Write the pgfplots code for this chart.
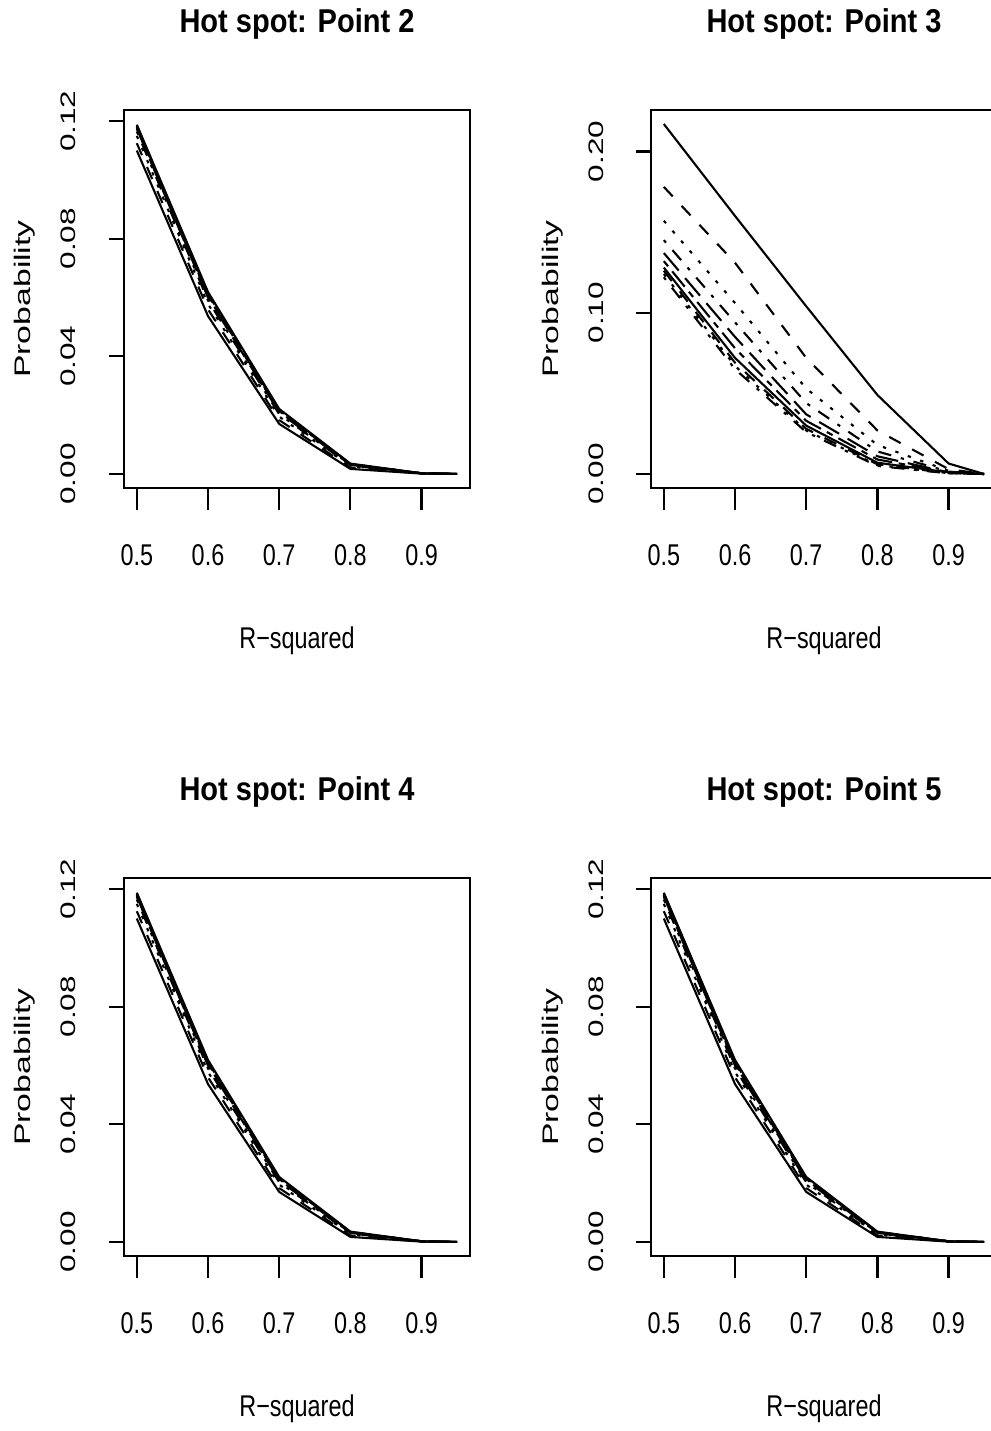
\documentclass[border=0pt]{standalone}
\usepackage{fontspec}
\usepackage{pgfplots}
\usepackage{pgfplotstable}
\pgfplotsset{compat=1.18}

\setmainfont{Liberation Sans}
% horizontal text is set narrow, rotated text is set squat
\newfontfamily\hfont{Liberation Sans}[FakeStretch=0.78]
\newfontfamily\tfont{Liberation Sans}[FakeStretch=0.88]
\newfontfamily\vfont{Liberation Sans}[FakeStretch=1.5]
\newcommand\ticksH{\hfont\fontsize{30bp}{36bp}\selectfont}
\newcommand\ticksV{\vfont\fontsize{21bp}{25bp}\selectfont}
\newcommand\labelV{\vfont\fontsize{22.5bp}{27bp}\selectfont}
\newcommand\titleF{\tfont\bfseries\fontsize{33bp}{40bp}\selectfont}

% probability against R-squared, ten curves per hot spot
\pgfplotstableread{
x     a      b      c      d      e      f      g      h      i      j
0.50  0.1100 0.1125 0.1150 0.1165 0.1175 0.1182 0.1188 0.1185 0.1180 0.1176
0.60  0.0537 0.0560 0.0578 0.0590 0.0600 0.0607 0.0619 0.0612 0.0608 0.0604
0.70  0.0170 0.0183 0.0195 0.0203 0.0209 0.0214 0.0221 0.0217 0.0215 0.0212
0.80  0.0017 0.0022 0.0026 0.0029 0.0031 0.0033 0.0035 0.0034 0.0033 0.0032
0.90  0.0001 0.0001 0.0001 0.0002 0.0002 0.0002 0.0002 0.0002 0.0002 0.0002
0.95  0.0000 0.0000 0.0000 0.0000 0.0000 0.0000 0.0000 0.0000 0.0000 0.0000
}\hsTwo
\pgfplotstableread{
x     a      b      c      d      e      f      g      h      i      j
0.50  0.2170 0.1780 0.1570 0.1450 0.1370 0.1320 0.1280 0.1260 0.1240 0.1220
0.60  0.1600 0.1310 0.1060 0.0940 0.0850 0.0780 0.0720 0.0690 0.0670 0.0650
0.70  0.1040 0.0720 0.0530 0.0440 0.0370 0.0330 0.0300 0.0280 0.0270 0.0260
0.80  0.0490 0.0270 0.0180 0.0140 0.0110 0.0090 0.0070 0.0060 0.0055 0.0050
0.90  0.0065 0.0030 0.0020 0.0015 0.0010 0.0010 0.0010 0.0005 0.0005 0.0004
0.95  0.0000 0.0000 0.0000 0.0000 0.0000 0.0000 0.0000 0.0000 0.0000 0.0000
}\hsThree

% R line types 1..6
\tikzset{
  lty1/.style={solid},
  lty2/.style={dash pattern=on 13bp off 13bp},
  lty3/.style={dash pattern=on 3.3bp off 9.9bp},
  lty4/.style={dash pattern=on 3.3bp off 9.9bp on 13.2bp off 9.9bp},
  lty5/.style={dash pattern=on 23bp off 9.9bp},
  lty6/.style={dash pattern=on 6.6bp off 6.6bp on 19.8bp off 6.6bp},
}

\pgfplotsset{
  rpanel/.style={
    scale only axis, width=346bp, height=378bp,
    anchor=south west,
    xmin=0.482, xmax=0.968,
    xtick={0.5,0.6,0.7,0.8,0.9},
    tick align=outside, xtick pos=left, ytick pos=left,
    major tick length=22bp,
    ytick style={/pgfplots/major tick length=15bp},
    axis line style={line width=2.6bp},
    every tick/.style={line width=2.2bp, black},
    scaled y ticks=false,
    /pgf/number format/assume math mode=true,
    xticklabel style={font=\ticksH, anchor=base, yshift=-55bp,
      /pgf/number format/fixed, /pgf/number format/precision=1},
    yticklabel style={font=\ticksV, xshift=-26bp, rotate=90, anchor=base,
      /pgf/number format/fixed, /pgf/number format/fixed zerofill,
      /pgf/number format/precision=2},
    xlabel={R−squared},
    xlabel style={font=\ticksH, at={(axis description cs:0.5,-0.4233)}, anchor=base},
    ylabel={Probability},
    ylabel style={font=\labelV, at={(axis description cs:-0.2688,0.5)}, anchor=base},
    title style={font=\titleF, at={(axis description cs:0.5,1.1905)}, anchor=base},
    every axis plot/.append style={line width=2.1bp, black},
  },
  lowrange/.style={ymin=-0.0048, ymax=0.1238, ytick={0,0.04,0.08,0.12}},
  highrange/.style={ymin=-0.00868, ymax=0.22568, ytick={0,0.1,0.2}},
}

\newcommand\curves[1]{%
  \addplot[lty1] table[x=x,y=a] {#1};
  \addplot[lty2] table[x=x,y=b] {#1};
  \addplot[lty3] table[x=x,y=c] {#1};
  \addplot[lty4] table[x=x,y=d] {#1};
  \addplot[lty5] table[x=x,y=e] {#1};
  \addplot[lty6] table[x=x,y=f] {#1};
  \addplot[lty1] table[x=x,y=g] {#1};
  \addplot[lty2] table[x=x,y=h] {#1};
  \addplot[lty3] table[x=x,y=i] {#1};
  \addplot[lty4] table[x=x,y=j] {#1};
}

\begin{document}
\begin{tikzpicture}
\path[use as bounding box] (0bp,0bp) rectangle (991bp,-1431bp);
\clip (0bp,0bp) rectangle (991bp,-1431bp);

\begin{axis}[rpanel, lowrange, at={(124bp,-488bp)}, title={Hot spot: Point 2}]
  \curves{\hsTwo}
\end{axis}

\begin{axis}[rpanel, highrange, at={(651bp,-488bp)}, title={Hot spot: Point 3}]
  \curves{\hsThree}
\end{axis}

\begin{axis}[rpanel, lowrange, at={(124bp,-1256bp)}, title={Hot spot: Point 4}]
  \curves{\hsTwo}
\end{axis}

\begin{axis}[rpanel, lowrange, at={(651bp,-1256bp)}, title={Hot spot: Point 5}]
  \curves{\hsTwo}
\end{axis}
\end{tikzpicture}
\end{document}
